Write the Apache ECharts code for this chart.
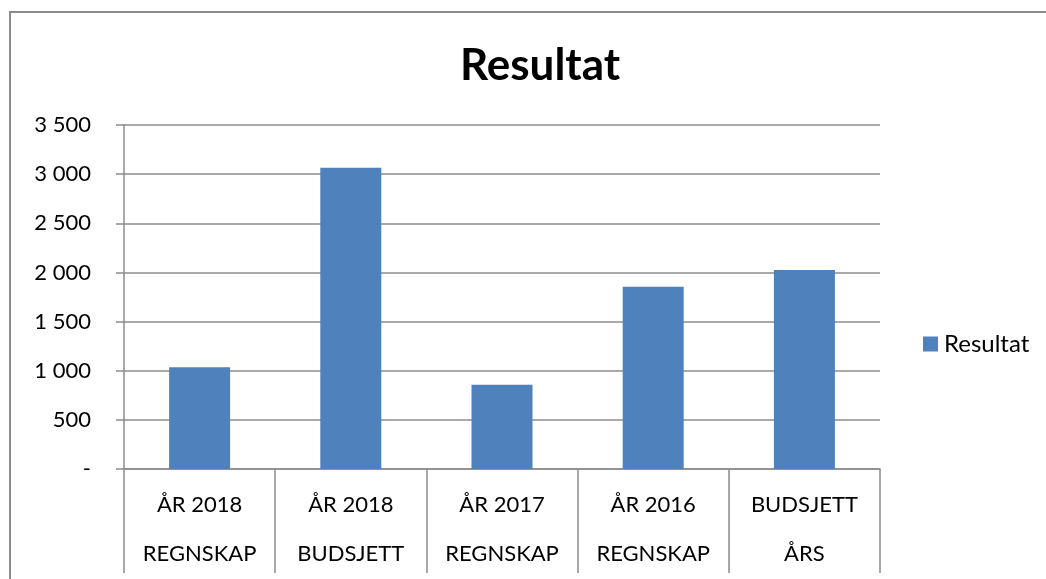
<!DOCTYPE html>
<html>
<head>
<meta charset="utf-8">
<script src="https://cdn.jsdelivr.net/npm/echarts@6/dist/echarts.min.js"></script>
<style>
  html, body { margin: 0; padding: 0; background: #fff; }
  #chart { width: 1046px; height: 579px; }
</style>
</head>
<body>
<div id="chart"></div>
<script>
const categories = [
  'ÅR 2018\nREGNSKAP',
  'ÅR 2018\nBUDSJETT',
  'ÅR 2017\nREGNSKAP',
  'ÅR 2016\nREGNSKAP',
  'BUDSJETT\nÅRS'
]
const resultat = [1035, 3065, 858, 1855, 2025]

const font = 'Lato, "Open Sans", sans-serif'
const gridColor = '#8c8c8c'

function fmt(v) {
  if (v === 0) return '-'
  return String(v).replace(/\B(?=(\d{3})+(?!\d))/g, ' ')
}

const chart = echarts.init(document.getElementById('chart'), null, { renderer: 'canvas' })

chart.setOption({
  backgroundColor: '#fff',
  animation: false,
  title: {
    text: 'Resultat',
    left: 535,
    top: 39,
    textAlign: 'center',
    textStyle: { fontFamily: font, fontSize: 44, fontWeight: 'bold', color: '#000' }
  },
  legend: {
    data: ['Resultat'],
    orient: 'vertical',
    left: 918,
    top: 327,
    icon: 'rect',
    itemWidth: 15,
    itemHeight: 15,
    itemGap: 6,
    textStyle: { fontFamily: font, fontSize: 24, color: '#000', padding: [0, 0, 0, 1] }
  },
  grid: { left: 124, right: 166, top: 125, bottom: 110, containLabel: false },
  xAxis: {
    type: 'category',
    data: categories,
    axisLine: { show: true, lineStyle: { color: gridColor, width: 1.5 } },
    axisTick: { show: true, length: 104, lineStyle: { color: gridColor, width: 1.5 } },
    axisLabel: {
      fontFamily: font,
      fontSize: 22,
      color: '#000',
      lineHeight: 49,
      margin: 11
    }
  },
  yAxis: {
    type: 'value',
    min: 0,
    max: 3500,
    interval: 500,
    axisLine: { show: true, lineStyle: { color: gridColor, width: 1.5 } },
    axisTick: { show: true, inside: false, length: 8, lineStyle: { color: gridColor, width: 1.5 } },
    splitLine: { show: true, lineStyle: { color: gridColor, width: 1.5 } },
    axisLabel: {
      fontFamily: font,
      fontSize: 22,
      color: '#000',
      margin: 33,
      formatter: fmt
    }
  },
  series: [{
    name: 'Resultat',
    type: 'bar',
    data: resultat,
    barWidth: 61,
    itemStyle: { color: '#4f81bd' }
  }],
  graphic: [{
    type: 'rect',
    shape: { x: 10, y: 12, width: 1100, height: 620 },
    style: { fill: null, stroke: gridColor, lineWidth: 2 },
    silent: true
  }]
})

window.addEventListener('resize', () => chart.resize())
</script>
</body>
</html>
